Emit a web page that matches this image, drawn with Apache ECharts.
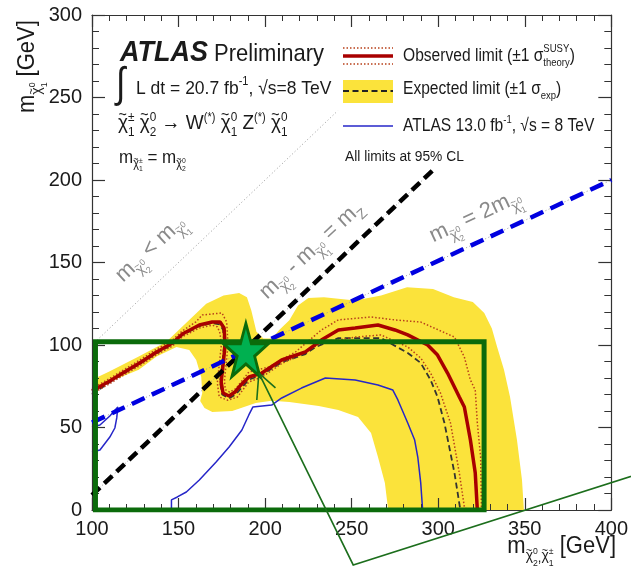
<!DOCTYPE html>
<html><head><meta charset="utf-8">
<script src="https://cdn.jsdelivr.net/npm/echarts@6/dist/echarts.min.js"></script>
<style>html,body{margin:0;padding:0;background:#fff}#c{width:631px;height:567px}</style>
</head><body><div id="c"></div>
<script>
// ---------------- data (GeV) ----------------
const xTicks = [100, 150, 200, 250, 300, 350, 400];
const yTicks = [0, 50, 100, 150, 200, 250, 300];

const expBandOuter = [[100,79],[110,84],[127,93],[143,102],[156,115],[166,125],[176,130],[185,131.5],[189.5,129],[192,121],[195,108],[199,104],[204,104],[208,109],[214,115],[219,124],[225,128.5],[234,129],[252,127],[267,130],[282,135],[297,134],[309,129],[320,126],[326.6,119.4],[331,110],[334,99],[338,85],[341.5,68.5],[345.5,42.4],[348.4,18.2],[349.5,0],[100,0]];
const expBandInner = [[100,68.5],[104.6,74],[113,79],[127,85],[137.3,93],[148.8,98.8],[156.2,97],[160.2,90.9],[163.1,80.6],[163.7,70.9],[162.5,66],[165,61.8],[169.5,59.4],[181,60],[194.6,64.8],[203.8,66.2],[214,65.5],[231,63],[242.3,60.6],[253.7,56.4],[261.2,46.7],[265.2,32.1],[269.2,16.4],[270.9,1.8],[271,0],[100,0]];

const observed = [[100,72.1],[110.3,78.2],[117.8,83],[127.5,89.1],[137.3,95.8],[146.5,101.2],[152.2,106.7],[162,112.1],[169.4,113.9],[174,113.9],[176.3,110.3],[176.9,100],[175.7,87.9],[174.6,77.6],[175.7,70.9],[179.2,69.1],[182.6,71.5],[186,75.8],[190.6,80.6],[198.1,83],[209.6,90.9],[223.3,95.8],[232.5,103],[242.3,109.1],[252,110.3],[265.2,112.1],[275,109.1],[282.4,106.1],[293.9,100],[299.6,93.9],[305.4,83],[312.2,68.5],[315.1,62.4],[318.6,42.4],[321.4,22.4],[322.6,0]];
const obsTheoryUp = [[100,73.5],[110.3,79.8],[117.8,84.6],[127.5,90.8],[137.3,97.5],[146.5,103],[152.2,108.5],[160,114],[163.7,118.2],[175.1,119.4],[177.8,113.9],[178.6,100],[177.4,87.9],[176.5,78],[177,73],[179.5,71.5],[183,73.5],[190.6,83.6],[202.1,86.7],[217.6,95.8],[232.5,109.1],[242.3,115.2],[261.2,117],[275,115.2],[289.9,113.9],[309.4,104.8],[315.1,92.7],[318.6,78.8],[321.4,72.7],[322.6,52.7],[324.5,32.1],[325,0]];
const obsTheoryDown = [[100,70.5],[110.3,76.6],[117.8,81.4],[127.5,87.4],[137.3,94.1],[146.5,99.4],[152.2,105],[162,110.3],[169.4,112],[172.5,111],[174,107],[174.7,100],[173.5,88],[172.4,77],[173.5,68.5],[178.5,66.5],[184,68.5],[190.6,77.6],[198.1,80.5],[209.6,88.8],[217.6,92.7],[232.5,101.2],[252,104.8],[266.9,106.1],[282.4,98.8],[289.9,92.1],[295.6,83],[301.3,70.9],[307.1,52.7],[312.2,22.4],[315.1,1.8],[316.8,0]];
const expected = [[100,70],[110.3,77.5],[117.8,82.5],[127.5,88.5],[137.3,95],[146.5,100.5],[152.2,106],[162,111.5],[169.4,113.3],[173.8,112.5],[175.8,109],[176.3,100],[175.2,88],[174,77.5],[175.2,70],[179.2,67.7],[183,70],[190.6,79],[198.1,81.8],[209.6,89.6],[223.3,94.5],[229.1,98.8],[242.3,104.2],[266.9,104.2],[282.4,95.2],[289.9,89.1],[295.6,78.8],[299.6,68.5],[303.6,52.7],[309.4,22.4],[312.8,0]];

const atlas13Left = [[100,50.3],[104.6,51.5],[110.3,57],[114.9,62.4],[114.3,55.8],[113.2,49.7],[110.3,44.2],[104.6,36.4],[100,35.2]];
const atlas13Main = [[145.9,0],[145.9,6.1],[149.3,7.9],[154.5,10.9],[162,18.2],[171.7,29.1],[179.2,38.2],[186.6,48.5],[190.6,57.6],[192.9,62.4],[203.8,63.6],[209.6,67.9],[221,73.9],[234.8,80],[252,78.8],[265.2,75.8],[273.8,72.7],[276.7,66.7],[282.4,52.7],[286.4,42.4],[288.2,32.1],[289.9,16.4],[291,0]];

const kinematicLine = [[100,100],[242,242]];      // m(chi2) = m(chi1)
const zMassLine = [[100,9],[297,206]];            // m(chi2) - m(chi1) = mZ
const halfMassLine = [[100,53],[400,200]];        // m(chi2) = 2 m(chi1)

const highlightBox = [[102,0],[326.5,0],[326.5,102],[102,102],[102,0]];
const starPoint = [[188.9,97]];
const calloutHead = [[206,74],[196.4,83],[195.2,66.7]];
const calloutLine = [[196.4,83],[250.9,-33.3],[420,23.3]];

// ---------------- helpers ----------------
const FONT = '"Liberation Sans", Arial, Helvetica, sans-serif';
const mctx = document.createElement('canvas').getContext('2d');
function measure(t, s, fw) { mctx.font = fw + s + 'px ' + FONT; return mctx.measureText(t).width; }
// segs: [text, size, baselineOffset, {b,i,n(no advance),c,dx}]
function mtext(segs, opt) {
  const children = []; let cx = 0; let pend = 0;
  for (const sg of segs) {
    const t = sg[0], s = sg[1], dy = sg[2] || 0, o = sg[3] || {};
    const fw = (o.i ? 'italic ' : '') + (o.b ? 'bold ' : '');
    const w = measure(t, s, fw);
    children.push({ type: 'text', x: cx + (o.dx || 0), y: dy - 0.35 * s, silent: true,
      style: { text: t, fontSize: s, fontFamily: FONT, fontWeight: o.b ? 'bold' : 'normal',
        fontStyle: o.i ? 'italic' : 'normal', fill: o.c || opt.color || '#1a1a1a',
        verticalAlign: 'middle', align: 'left' } });
    if (o.n) { pend = Math.max(pend, w); } else { cx += Math.max(w, pend); pend = 0; }
  }
  const shift = opt.anchor === 'right' ? -cx : (opt.anchor === 'center' ? -cx / 2 : 0);
  children.forEach(c => { c.x += shift; });
  return { type: 'group', x: opt.x, y: opt.y, rotation: (opt.rot || 0) * Math.PI / 180,
    scaleY: opt.sy || 1, z: 100, silent: true, children };
}
// chi with tilde, followed by stacked superscript/subscript
function chi(s, dy, sup, sub, lead) {
  const t = 0.75 * s, k = 0.62 * s;
  const out = [];
  if (lead) out.push([' ', s, dy]);
  out.push(['~', t, dy - 0.45 * s, { n: 1, dx: 0.02 * s }]);
  out.push(['χ', s, dy]);
  if (sup) out.push([sup, k, dy - 0.42 * s, { n: 1 }]);
  if (sub) out.push([sub, k, dy + 0.3 * s]);
  return out;
}
function polySeries(points, fill, z) {
  return { type: 'custom', z: z, clip: true, silent: true, animation: false,
    data: [[points[0][0], points[0][1]]],
    renderItem: function (params, api) {
      return { type: 'polygon', shape: { points: points.map(p => api.coord(p)) },
        style: { fill: fill, stroke: null } };
    } };
}
function lineSeries(data, color, width, dash, z, extra) {
  return Object.assign({ type: 'line', data: data, showSymbol: false, symbol: 'none', silent: true,
    animation: false, z: z, lineStyle: { color: color, width: width, type: dash || 'solid' } }, extra || {});
}

// ---------------- chart ----------------
const chart = echarts.init(document.getElementById('c'), null, { renderer: 'canvas' });
const axisLineStyle = { color: '#333', width: 1.2 };
function mkX(pos, show) {
  return { type: 'value', position: pos, min: xTicks[0], max: xTicks[xTicks.length - 1], interval: 50, z: 5,
    axisLine: { show: true, onZero: false, lineStyle: axisLineStyle },
    axisTick: { show: true, inside: true, length: 12, lineStyle: axisLineStyle },
    minorTick: { show: true, splitNumber: 5, length: 6, lineStyle: { color: '#333', width: 1 } },
    splitLine: { show: false },
    axisLabel: { show: show, fontSize: 20, color: '#1a1a1a', fontFamily: FONT, margin: 9 } };
}
function mkY(pos, show) {
  return { type: 'value', position: pos, min: yTicks[0], max: yTicks[yTicks.length - 1], interval: 50, z: 5,
    axisLine: { show: true, onZero: false, lineStyle: axisLineStyle },
    axisTick: { show: true, inside: true, length: 13, lineStyle: axisLineStyle },
    minorTick: { show: true, splitNumber: 5, length: 7, lineStyle: { color: '#333', width: 1 } },
    splitLine: { show: false },
    axisLabel: { show: show, fontSize: 20, color: '#1a1a1a', fontFamily: FONT, margin: 10 } };
}

const YEL = '#fbe33b', RED = '#a80000', DOT = '#b8401a', BLUE = '#2626c8', GREEN = '#0b6b0b', GRAY = '#8a8a8a';

const option = {
  animation: false,
  backgroundColor: '#fff',
  grid: { left: 92, right: 16, top: 15, bottom: 57, containLabel: false },
  xAxis: [mkX('bottom', true), mkX('top', false)],
  yAxis: [mkY('left', true), mkY('right', false)],
  series: [
    polySeries(expBandOuter, YEL, 1),
    polySeries(expBandInner, '#ffffff', 1.1),
    lineSeries(kinematicLine, '#999', 1, [1, 2.5], 2),
    lineSeries(zMassLine, '#999', 1, [1, 2.5], 2),
    lineSeries(halfMassLine, '#999', 1, [1, 2.5], 2),
    lineSeries(atlas13Left, BLUE, 1.5, 'solid', 3),
    lineSeries(atlas13Main, BLUE, 1.5, 'solid', 3),
    lineSeries(expected, '#333', 1.8, [6, 3.5], 3),
    lineSeries(obsTheoryUp, DOT, 1.5, [1.5, 2], 3),
    lineSeries(obsTheoryDown, DOT, 1.5, [1.5, 2], 3),
    lineSeries(observed, RED, 3.5, 'solid', 4),
    lineSeries(zMassLine, '#000', 4.5, [11, 6], 6),
    lineSeries(halfMassLine, '#0000e0', 4.5, [14, 8], 6),
    lineSeries(highlightBox, GREEN, 5, 'solid', 8, { lineStyle: { color: GREEN, width: 5, cap: 'square', join: 'miter' } }),
    lineSeries(calloutHead, '#1c6e1c', 1.6, 'solid', 9, { clip: false }),
    { type: 'scatter', z: 10, silent: true, animation: false, data: starPoint,
      symbol: 'path://M50,0 L61.8,35.4 L99,35.4 L69,57.3 L80.4,92.7 L50,70.8 L19.6,92.7 L31,57.3 L1,35.4 L38.2,35.4 Z',
      symbolSize: [45, 53], itemStyle: { color: '#00b050', borderColor: GREEN, borderWidth: 3, opacity: 1 } }
  ]
};
chart.setOption(option);

// callout line through the grid's own coordinate conversion (unclipped)
const calloutPx = calloutLine.map(p => chart.convertToPixel({ gridIndex: 0 }, p));

const graphics = [
  { type: 'polyline', z: 90, silent: true, shape: { points: calloutPx }, style: { stroke: '#1c6e1c', lineWidth: 1.6, fill: null } },
  // y-axis title
  mtext([['m', 22, 0]].concat(chi(14, 6, '0', '1'), [[' [GeV]', 22, 0]]), { x: 36, y: 113, rot: 90, sy: 1.1 }),
  // x-axis title
  mtext([['m', 22, 0]].concat(chi(14, 6, '0', '2'), [[',', 13, 7]], chi(14, 6, '±', '1'), [[' [GeV]', 22, 0]]),
    { x: 616, y: 555, anchor: 'right', sy: 1.1 }),
  // ATLAS Preliminary
  mtext([['ATLAS', 27, 0, { b: 1, i: 1 }], [' Preliminary', 22, 0]], { x: 120, y: 63, sy: 1.1 }),
  mtext([['∫', 34, 0]], { x: 116, y: 100, sy: 1.25 }),
  mtext([['L dt = 20.7 fb', 17.5, 0], ['-1', 11, -8], [', √s=8 TeV', 17.5, 0]], { x: 136, y: 95, sy: 1.1 }),
  mtext([].concat(chi(19, 0, '±', '1'), chi(19, 0, '0', '2', 1), [[' → W', 19, 0], ['(*)', 11, -8]],
    chi(19, 0, '0', '1', 1), [[' Z', 19, 0], ['(*)', 11, -8]], chi(19, 0, '0', '1', 1)), { x: 118, y: 131, sy: 1.1 }),
  mtext([['m', 17, 0]].concat(chi(11, 4, '±', '1'), [[' = m', 17, 0]], chi(11, 4, '0', '2')), { x: 119, y: 164, sy: 1.1 }),
  // rotated line labels
  mtext([['m', 22, 0]].concat(chi(14, 6, '0', '2'), [[' < m', 22, 0]], chi(14, 6, '0', '1')), { x: 124, y: 284, rot: 43, color: GRAY }),
  mtext([['m', 22, 0]].concat(chi(14, 6, '0', '2'), [[' - m', 22, 0]], chi(14, 6, '0', '1'), [[' = m', 22, 0], ['Z', 14, 6]]),
    { x: 268, y: 301, rot: 43, color: GRAY }),
  mtext([['m', 22, 0]].concat(chi(14, 6, '0', '2'), [[' = 2m', 22, 0]], chi(14, 6, '0', '1')), { x: 434, y: 244, rot: 25, color: GRAY }),
  // legend samples
  { type: 'line', z: 100, shape: { x1: 343, y1: 48, x2: 393, y2: 48 }, style: { stroke: DOT, lineWidth: 1.5, lineDash: [1.5, 2] } },
  { type: 'line', z: 100, shape: { x1: 343, y1: 56, x2: 393, y2: 56 }, style: { stroke: RED, lineWidth: 3.5 } },
  { type: 'line', z: 100, shape: { x1: 343, y1: 64, x2: 393, y2: 64 }, style: { stroke: DOT, lineWidth: 1.5, lineDash: [1.5, 2] } },
  { type: 'rect', z: 100, shape: { x: 343, y: 80, width: 50, height: 23 }, style: { fill: YEL } },
  { type: 'line', z: 101, shape: { x1: 343, y1: 91, x2: 393, y2: 91 }, style: { stroke: '#222', lineWidth: 1.8, lineDash: [6, 3.5] } },
  { type: 'line', z: 100, shape: { x1: 343, y1: 126, x2: 393, y2: 126 }, style: { stroke: BLUE, lineWidth: 1.6 } },
  mtext([['Observed limit (±1 σ', 15.6, 0], ['SUSY', 9.5, -8, { n: 1 }], ['theory', 9.5, 4], [')', 15.6, 0]], { x: 403, y: 62, sy: 1.15 }),
  mtext([['Expected limit (±1 σ', 15.6, 0], ['exp', 9.5, 4], [')', 15.6, 0]], { x: 403, y: 95, sy: 1.15 }),
  mtext([['ATLAS 13.0 fb', 15.6, 0], ['-1', 9.5, -7], [', √s = 8 TeV', 15.6, 0]], { x: 403, y: 132, sy: 1.15 }),
  mtext([['All limits at 95% CL', 13.8, 0]], { x: 345, y: 162, sy: 1.05 })
];
chart.setOption({ graphic: graphics });
</script>
</body></html>
